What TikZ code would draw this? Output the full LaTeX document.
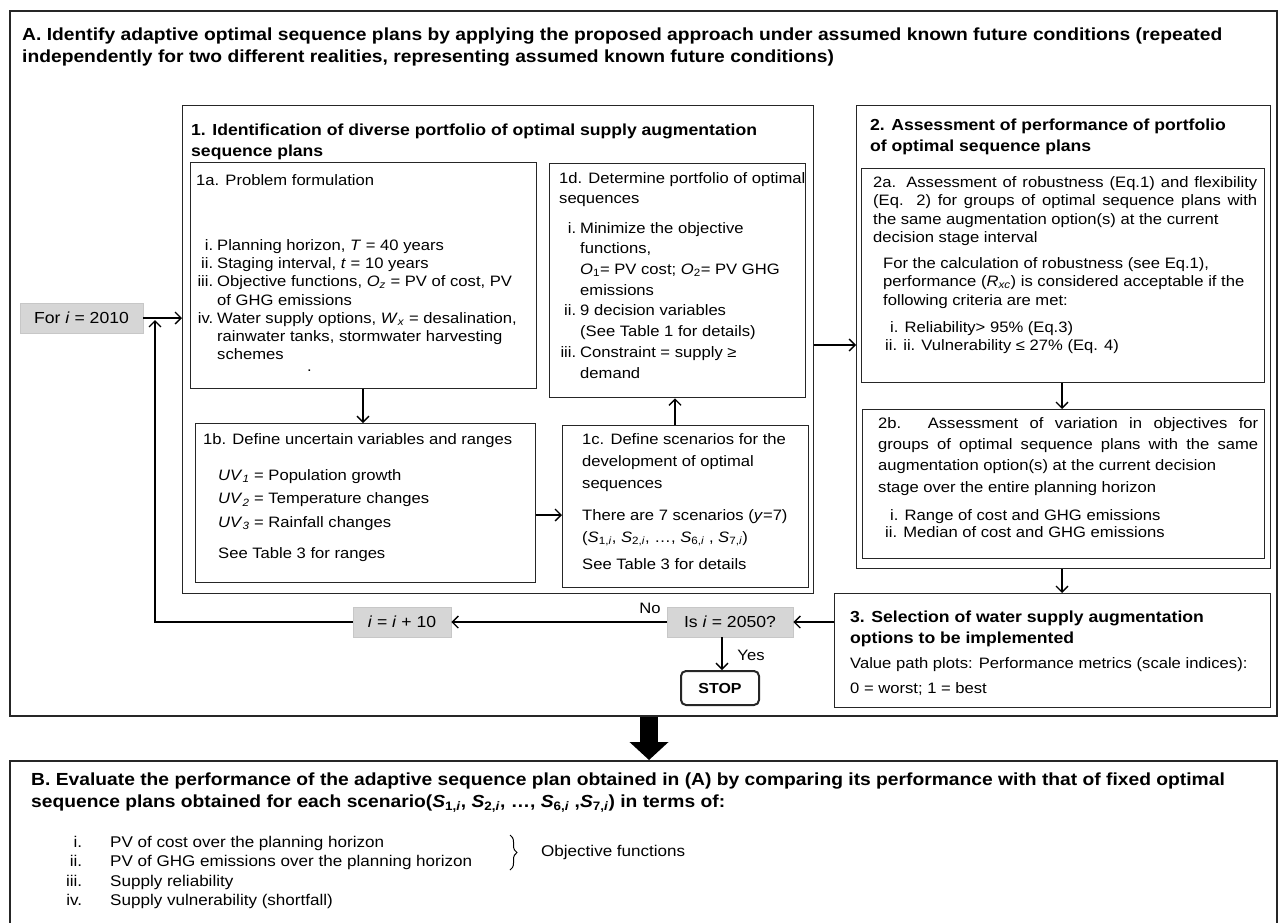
\documentclass[tikz,border=0pt]{standalone}
\usepackage{fontspec}
\setmainfont{Liberation Sans}[FakeStretch=1.1]
\usetikzlibrary{arrows.meta,decorations.pathreplacing}
\newcommand\ritem[2][17pt]{\makebox[#1][r]{#2}\hspace{4pt}}
\newcommand\rcont[1][17pt]{\hspace*{\dimexpr#1+4pt\relax}}
\begin{document}
\begin{tikzpicture}[x=1pt,y=-1pt,
  frame/.style={draw=black!85,line width=1.4pt,inner sep=0pt,anchor=north west},
  gbox/.style={fill=black!16,draw=black!22,line width=0.8pt,inner sep=0pt,minimum height=30pt,font=\fontsize{16}{18}\selectfont},
  body/.style={inner sep=0pt,anchor=north west,align=left,font=\fontsize{15.1}{18.3}\selectfont},
  head/.style={inner sep=0pt,anchor=north west,align=left,font=\bfseries\fontsize{16}{21}\selectfont},
  big/.style={inner sep=0pt,anchor=north west,align=left,font=\bfseries\fontsize{17.5}{22}\selectfont},
  arr/.style={line width=1.3pt,-{Straight Barb[length=6pt,width=12pt]}},
]
\useasboundingbox (0,0) rectangle (1279,922);
% frames
\node[frame,line width=2pt,minimum width=1267pt,minimum height=705pt] (A) at (9,10) {};
\node[frame,line width=2pt,minimum width=1267pt,minimum height=180pt] (B) at (9,760) {};
\node[frame,minimum width=631pt,minimum height=488pt] (P1) at (182,105) {};
\node[frame,minimum width=346pt,minimum height=226pt] (P1a) at (190,162) {};
\node[frame,minimum width=256pt,minimum height=234pt] (P1d) at (549,163) {};
\node[frame,minimum width=340pt,minimum height=159pt] (P1b) at (195,423) {};
\node[frame,minimum width=246pt,minimum height=162pt] (P1c) at (562,425) {};
\node[frame,minimum width=414pt,minimum height=463pt] (P2) at (856,105) {};
\node[frame,minimum width=403pt,minimum height=214pt] (P2a) at (861,168) {};
\node[frame,minimum width=402pt,minimum height=149pt] (P2b) at (862,409) {};
\node[frame,minimum width=436pt,minimum height=114pt] (P3) at (834,593) {};
% grey boxes
\node[gbox,minimum width=123pt] (F) at (81.5,318) {For \textit{i} = 2010};
\node[gbox,minimum width=98pt] (I) at (402,622) {\textit{i} = \textit{i} + 10};
\node[gbox,minimum width=126pt] (Q) at (730,622) {Is \textit{i} = 2050?};
\node[draw=black!85,line width=2pt,rounded corners=5pt,minimum width=78pt,minimum height=34pt,inner sep=0pt,font=\bfseries\fontsize{14.5}{17}\selectfont] (S) at (720,688) {STOP};
% texts
\node[big] (tA) at (22,28) {A. Identify adaptive optimal sequence plans by applying the proposed approach under assumed known future conditions (repeated\\independently for two different realities, representing assumed known future conditions)};
\node[head] (t1) at (191,124) {1. Identification of diverse portfolio of optimal supply augmentation\\sequence plans};
\node[body] (t1a) at (196,174) {1a. Problem formulation};
\node[body] (t1ai) at (196,239) {\ritem{i.}Planning horizon, \textit{T} = 40 years\\
\ritem{ii.}Staging interval, \textit{t} = 10 years\\
\ritem{iii.}Objective functions, \textit{O}\textsubscript{\textit{z}} = PV of cost, PV\\
\rcont of GHG emissions\\
\ritem{iv.}Water supply options, \textit{W}\textsubscript{\textit{x}} = desalination,\\
\rcont rainwater tanks, stormwater harvesting\\
\rcont schemes};
\node[body] (dot) at (307,370) {.};
\node[body,font=\fontsize{15.1}{20}\selectfont] (t1d) at (559,172) {1d. Determine portfolio of optimal\\sequences};
\node[body,font=\fontsize{15.1}{20.7}\selectfont] (t1di) at (560,222) {\ritem[16pt]{i.}Minimize the objective\\
\rcont[16pt]functions,\\
\rcont[16pt]\textit{O}\textsubscript{1}= PV cost; \textit{O}\textsubscript{2}= PV GHG\\
\rcont[16pt]emissions\\
\ritem[16pt]{ii.}9 decision variables\\
\rcont[16pt](See Table 1 for details)\\
\ritem[16pt]{iii.}Constraint = supply ≥\\
\rcont[16pt]demand};
\node[body] (t1b) at (203,433) {1b. Define uncertain variables and ranges};
\node[body,font=\fontsize{15.1}{23.5}\selectfont] (t1bi) at (218,469) {\textit{UV}\textsubscript{\textit{1}} = Population growth\\
\textit{UV}\textsubscript{\textit{2}} = Temperature changes\\
\textit{UV}\textsubscript{\textit{3}} = Rainfall changes};
\node[body] (t1bs) at (218,547) {See Table 3 for ranges};
\node[body,font=\fontsize{15.1}{22}\selectfont] (t1c) at (582,433) {1c. Define scenarios for the\\development of optimal\\sequences};
\node[body,font=\fontsize{15.1}{22}\selectfont] (t1ci) at (582,509) {There are 7 scenarios (\textit{y}=7)\\
(\textit{S}\textsubscript{1,\textit{i}}, \textit{S}\textsubscript{2,\textit{i}}, \dots, \textit{S}\textsubscript{6,\textit{i}} , \textit{S}\textsubscript{7,\textit{i}})};
\node[body] (t1cs) at (582,558) {See Table 3 for details};
\node[head] (t2) at (870,119) {2. Assessment of performance of portfolio\\of optimal sequence plans};
\node[body,text width=384pt,align=justify,font=\fontsize{15.1}{18.5}\selectfont] (t2a) at (873,176) {2a. Assessment of robustness (Eq.1) and flexibility\linebreak (Eq. 2) for groups of optimal sequence plans with\linebreak the same augmentation option(s) at the current\\decision stage interval};
\node[body,font=\fontsize{15.1}{18.5}\selectfont] (t2ap) at (883,257) {For the calculation of robustness (see Eq.1),\\
performance (\textit{R}\textsubscript{\textit{xc}}) is considered acceptable if the\\
following criteria are met:};
\node[body] (t2ai) at (885,321) {\hspace*{5pt}i. Reliability> 95\% (Eq.3)\\ii. ii. Vulnerability ≤ 27\% (Eq. 4)};
\node[body,text width=380pt,align=justify,font=\fontsize{15.1}{21.3}\selectfont] (t2b) at (878,417) {2b. Assessment of variation in objectives for\linebreak groups of optimal sequence plans with the same\linebreak augmentation option(s) at the current decision\\stage over the entire planning horizon};
\node[body,font=\fontsize{15.1}{17.5}\selectfont] (t2bi) at (885,509) {\hspace*{5pt}i. Range of cost and GHG emissions\\ii. Median of cost and GHG emissions};
\node[head] (t3) at (850,611) {3. Selection of water supply augmentation\\options to be implemented};
\node[body,font=\fontsize{15.1}{25}\selectfont] (t3b) at (850,657) {Value path plots: Performance metrics (scale indices):\\0 = worst; 1 = best};
\node[big] (tB) at (31,773) {B. Evaluate the performance of the adaptive sequence plan obtained in (A) by comparing its performance with that of fixed optimal\\
sequence plans obtained for each scenario(\textit{S}\textsubscript{1,\textit{i}}, \textit{S}\textsubscript{2,\textit{i}}, \dots, \textit{S}\textsubscript{6,\textit{i}} ,\textit{S}\textsubscript{7,\textit{i}}) in terms of:};
\node[body,font=\fontsize{15.5}{19.3}\selectfont] (tBi) at (65,836) {\makebox[17pt][r]{i.}\hspace{28pt}PV of cost over the planning horizon\\
\makebox[17pt][r]{ii.}\hspace{28pt}PV of GHG emissions over the planning horizon\\
\makebox[17pt][r]{iii.}\hspace{28pt}Supply reliability\\
\makebox[17pt][r]{iv.}\hspace{28pt}Supply vulnerability (shortfall)};
\coordinate (br1) at (510,835);
\coordinate (br2) at (510,870);
\draw[decorate,decoration={brace,amplitude=7pt},line width=1pt] (br1) -- (br2);
\node[body,anchor=west,font=\fontsize{15.5}{19.3}\selectfont] (obj) at (541,852) {Objective functions};
\node[body,anchor=center] (no) at (650,608) {No};
\node[body,anchor=center] (yes) at (751,655) {Yes};
% connectors
\draw[arr] (F.east) -- (F.east -| P1.west);
\coordinate (fb) at (155,320);
\draw[arr] (I.west) -| (fb);
\coordinate (x1) at (363,0);
\draw[arr] (P1a.south -| x1) -- (P1b.north -| x1);
\coordinate (y1) at (0,515);
\draw[arr] (P1b.east |- y1) -- (P1c.west |- y1);
\coordinate (x2) at (675,0);
\draw[arr] (P1c.north -| x2) -- (P1d.south -| x2);
\coordinate (y2) at (0,345);
\draw[arr] (P1.east |- y2) -- (P2.west |- y2);
\coordinate (x3) at (1062,0);
\draw[arr] (P2a.south -| x3) -- (P2b.north -| x3);
\draw[arr] (P2.south -| x3) -- (P3.north -| x3);
\draw[arr] (P3.west |- Q.east) -- (Q.east);
\draw[arr] (Q.west) -- (I.east);
\coordinate (x4) at (722,0);
\draw[arr] (Q.south -| x4) -- (S.north -| x4);
\coordinate (x5) at (649,0);
\draw[line width=18pt,-{Triangle[length=18pt,width=38pt]}] (A.south -| x5) -- (B.north -| x5);
\end{tikzpicture}
\end{document}
